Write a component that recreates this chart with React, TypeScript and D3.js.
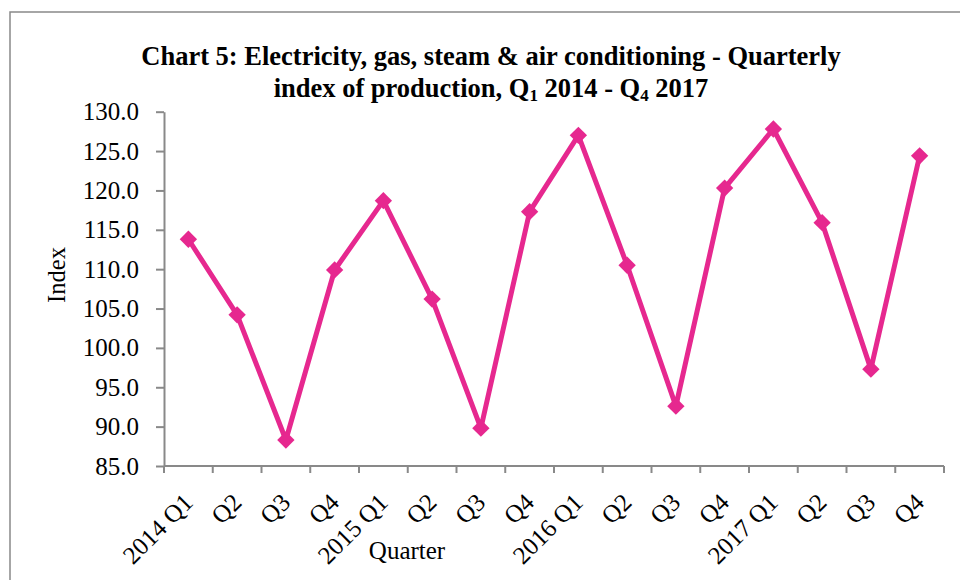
import React, { useRef, useEffect } from "react";
import * as d3 from "d3";

const quarters = [
  "2014 Q1", "Q2", "Q3", "Q4",
  "2015 Q1", "Q2", "Q3", "Q4",
  "2016 Q1", "Q2", "Q3", "Q4",
  "2017 Q1", "Q2", "Q3", "Q4",
];
const indexValues = [
  113.8, 104.2, 88.3, 109.9,
  118.7, 106.2, 89.8, 117.3,
  127.0, 110.5, 92.6, 120.3,
  127.8, 115.9, 97.3, 124.4,
];
const yTicks = [85, 90, 95, 100, 105, 110, 115, 120, 125, 130];

const FONT = "'Liberation Serif', 'Times New Roman', serif";
const PINK = "#E6288F";
const AXIS = "#898989";

const App = () => {
  const chartRef = useRef<SVGSVGElement | null>(null);

  useEffect(() => {
    if (!chartRef.current) return;
    const svg = d3.select(chartRef.current);
    svg.selectAll("*").remove();

    const margin = { top: 111.7, right: 16, bottom: 114, left: 164 };
    const width = 960;
    const height = 580;

    const xScale = d3.scaleBand<number>()
      .domain(quarters.map((_, i) => i))
      .range([margin.left, width - margin.right])
      .padding(0);

    const yScale = d3.scaleLinear()
      .domain([85, 130])
      .range([height - margin.bottom, margin.top]);

    const cx = (i: number) => (xScale(i) ?? 0) + xScale.bandwidth() / 2;

    // outer frame
    svg.append("rect")
      .attr("x", 10)
      .attr("y", 12)
      .attr("width", 1000)
      .attr("height", 700)
      .attr("fill", "none")
      .attr("stroke", AXIS)
      .attr("stroke-width", 1.5);

    // title
    const l1 = svg.append("text")
      .attr("x", 491)
      .attr("y", 65)
      .attr("text-anchor", "middle")
      .attr("font-family", FONT)
      .attr("font-weight", "bold")
      .attr("font-size", 26.5)
      .attr("fill", "#000")
      .text("Chart 5: Electricity, gas, steam & air conditioning - Quarterly");
    const l2 = svg.append("text")
      .attr("x", 491)
      .attr("y", 97)
      .attr("text-anchor", "middle")
      .attr("font-family", FONT)
      .attr("font-weight", "bold")
      .attr("font-size", 26.5)
      .attr("fill", "#000");
    l2.append("tspan").text("index of production, Q");
    l2.append("tspan").attr("font-size", 17).attr("dy", 4).text("1");
    l2.append("tspan").attr("dy", -4).text(" 2014 - Q");
    l2.append("tspan").attr("font-size", 17).attr("dy", 4).text("4");
    l2.append("tspan").attr("dy", -4).text(" 2017");

    // y axis
    const yAxis = svg.append("g")
      .attr("transform", `translate(${margin.left},0)`)
      .call(
        d3.axisLeft(yScale)
          .tickValues(yTicks)
          .tickFormat(d => (+d).toFixed(1))
          .tickSize(8)
          .tickSizeOuter(0)
          .tickPadding(17)
      );
    yAxis.select(".domain").attr("stroke", AXIS).attr("stroke-width", 2);
    yAxis.selectAll(".tick line").attr("stroke", AXIS).attr("stroke-width", 2);
    yAxis.selectAll(".tick text")
      .attr("font-family", FONT)
      .attr("font-size", 25)
      .attr("fill", "#000");

    // x axis (ticks between categories)
    const y0 = yScale(85);
    const xAxis = svg.append("g");
    xAxis.append("line")
      .attr("x1", margin.left)
      .attr("x2", width - margin.right)
      .attr("y1", y0)
      .attr("y2", y0)
      .attr("stroke", AXIS)
      .attr("stroke-width", 2);
    const bounds = quarters.map((_, i) => xScale(i) ?? 0).concat([width - margin.right]);
    xAxis.selectAll(".xtick")
      .data(bounds)
      .enter().append("line")
      .attr("x1", d => d)
      .attr("x2", d => d)
      .attr("y1", y0)
      .attr("y2", y0 + 7)
      .attr("stroke", AXIS)
      .attr("stroke-width", 2);
    xAxis.selectAll(".xlabel")
      .data(quarters)
      .enter().append("text")
      .attr("transform", (_, i) => `translate(${cx(i) + 6},${y0 + 38}) rotate(-45)`)
      .attr("text-anchor", "end")
      .attr("font-family", FONT)
      .attr("font-size", 25)
      .attr("fill", "#000")
      .text(d => d);

    // axis titles
    svg.append("text")
      .attr("transform", "translate(65,275) rotate(-90)")
      .attr("text-anchor", "middle")
      .attr("font-family", FONT)
      .attr("font-size", 24.5)
      .attr("fill", "#000")
      .text("Index");
    svg.append("text")
      .attr("x", 407)
      .attr("y", 559)
      .attr("text-anchor", "middle")
      .attr("font-family", FONT)
      .attr("font-size", 25)
      .attr("fill", "#000")
      .text("Quarter");

    // series
    const line = d3.line<number>()
      .x((_, i) => cx(i))
      .y(d => yScale(d));
    svg.append("path")
      .datum(indexValues)
      .attr("d", line)
      .attr("fill", "none")
      .attr("stroke", PINK)
      .attr("stroke-width", 5)
      .attr("stroke-linejoin", "round");

    svg.selectAll(".marker")
      .data(indexValues)
      .enter().append("path")
      .attr("d", d3.symbol().type(d3.symbolSquare).size(150)())
      .attr("transform", (d, i) => `translate(${cx(i)},${yScale(d)}) rotate(45)`)
      .attr("fill", PINK);
  }, []);

  return (
    <svg
      ref={chartRef}
      width={960}
      height={580}
      style={{ position: "absolute", left: 0, top: 0, background: "#fff" }}
    ></svg>
  );
};

export default App;
